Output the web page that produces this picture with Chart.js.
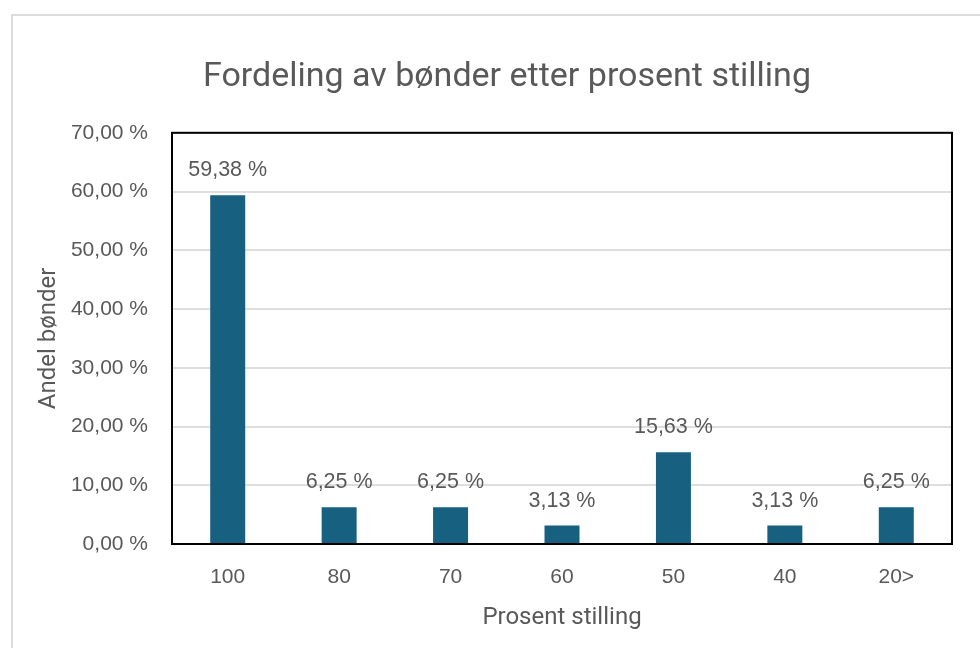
<!DOCTYPE html>
<html>
<head>
<meta charset="utf-8">
<script src="https://cdn.jsdelivr.net/npm/chart.js@4.4.0/dist/chart.umd.min.js"></script>
<style>
  html, body { margin: 0; padding: 0; background: #ffffff; overflow: hidden; width: 980px; height: 648px; }
  #wrap { position: absolute; left: 11px; top: 14px; width: 988px; height: 640px; border: 2px solid #dcdcdc; background: #fff; }
  #chart { display: block; }
</style>
</head>
<body>
<div id="wrap"><canvas id="chart" width="988" height="640"></canvas></div>
<script>
// Data
const categories = ['100', '80', '70', '60', '50', '40', '20>'];
const shares = [59.38, 6.25, 6.25, 3.13, 15.63, 3.13, 6.25];
const yTicks = [0, 10, 20, 30, 40, 50, 60, 70];

const textColor = '#595959';
const numFont = '"Liberation Sans", Arial, sans-serif';
const titleFont = 'Roboto, "Open Sans", sans-serif';

function pct(v) {
    return v.toFixed(2).replace('.', ',') + '\u00A0%';
}

// labels above bars + plot frame
const barLabels = {
    id: 'barLabels',
    afterDatasetsDraw(chart) {
        const ctx = chart.ctx;
        const area = chart.chartArea;
        ctx.save();
        ctx.strokeStyle = '#000000';
        ctx.lineWidth = 2;
        ctx.strokeRect(area.left, area.top, area.right - area.left, area.bottom - area.top);
        ctx.font = '21.5px ' + numFont;
        ctx.fillStyle = textColor;
        ctx.textAlign = 'center';
        ctx.textBaseline = 'middle';
        chart.getDatasetMeta(0).data.forEach((bar, i) => {
            ctx.fillText(pct(shares[i]), bar.x, bar.y - 25);
        });
        ctx.restore();
    }
};

new Chart(document.getElementById('chart').getContext('2d'), {
    type: 'bar',
    data: {
        labels: categories,
        datasets: [{
            data: shares,
            backgroundColor: '#17607f',
            categoryPercentage: 1,
            barPercentage: 0.314
        }]
    },
    options: {
        responsive: false,
        animation: false,
        layout: { padding: 0 },
        plugins: {
            legend: { display: false },
            tooltip: { enabled: false },
            title: {
                display: true,
                text: 'Fordeling av bønder etter prosent stilling',
                color: textColor,
                font: { family: titleFont, size: 34, weight: 'normal', lineHeight: 1.2 },
                padding: { top: 41, bottom: 35 }
            }
        },
        scales: {
            x: {
                grid: { display: false, drawTicks: false },
                border: { display: false },
                ticks: { color: textColor, font: { family: numFont, size: 21 }, padding: 21 },
                title: {
                    display: true,
                    text: 'Prosent stilling',
                    color: textColor,
                    font: { family: titleFont, size: 24, lineHeight: 1.2 },
                    padding: { top: 0, bottom: 24 }
                },
                afterFit(scale) { scale.height = 112; }
            },
            y: {
                min: yTicks[0],
                max: yTicks[yTicks.length - 1],
                afterBuildTicks(scale) { scale.ticks = yTicks.map(v => ({ value: v })); },
                grid: { color: '#dedede', lineWidth: 2, drawTicks: false },
                border: { display: false },
                ticks: {
                    color: textColor,
                    font: { family: numFont, size: 21 },
                    padding: 24,
                    callback: v => pct(v)
                },
                title: {
                    display: true,
                    text: 'Andel bønder',
                    color: textColor,
                    font: { family: titleFont, size: 24, lineHeight: 1.2 },
                    padding: { top: 22, bottom: 0 }
                },
                afterFit(scale) { scale.width = 159; }
            },
            // empty right-hand strip so the title stays centred on the whole box
            yRight: {
                type: 'linear',
                position: 'right',
                grid: { display: false, drawTicks: false },
                border: { display: false },
                ticks: { display: false },
                afterFit(scale) { scale.width = 49; }
            }
        }
    },
    plugins: [barLabels]
});
</script>
</body>
</html>
